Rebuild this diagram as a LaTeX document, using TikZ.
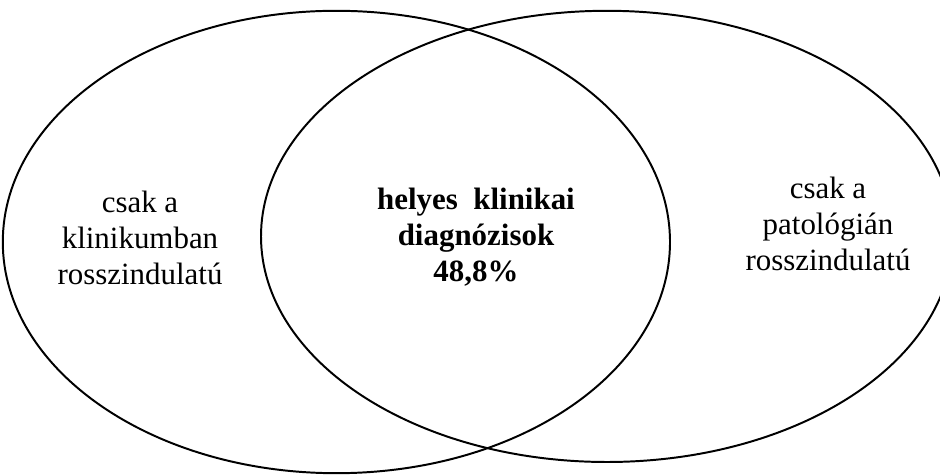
\documentclass[tikz,border=0pt]{standalone}
\usepackage{fontspec}
\setmainfont{Liberation Serif}
\usetikzlibrary{shapes.geometric}
\begin{document}
\begin{tikzpicture}[
    venn/.style={
        ellipse,
        draw=black,
        line width=1.4pt,
        inner sep=0pt
    },
    area/.style={
        align=center,
        font=\fontsize{22}{25.5}\selectfont
    },
    common/.style={
        align=center,
        font=\fontsize{22}{25.5}\selectfont\bfseries
    }
]
    \useasboundingbox (0,0) rectangle (23.5,11.9);
    \foreach \name/\x/\y/\w/\h in {
        klinikum/8.41/5.85/16.68/11.56,
        patologia/15.175/5.99/17.3/11.28%
    } {
        \node[venn, minimum width=\w cm, minimum height=\h cm] (\name) at (\x, \y) {};
    }
    \node[area] (csakklin) at (3.5, 5.95) {csak a\\klinikumban\\rosszindulatú};
    \node[common] (helyes) at (11.9, 5.975) {helyes\ \ klinikai\\diagnózisok\\48,8\%};
    \node[area] (csakpat) at (20.7, 6.3) {csak a\\patológián\\rosszindulatú};

\end{tikzpicture}
\end{document}
